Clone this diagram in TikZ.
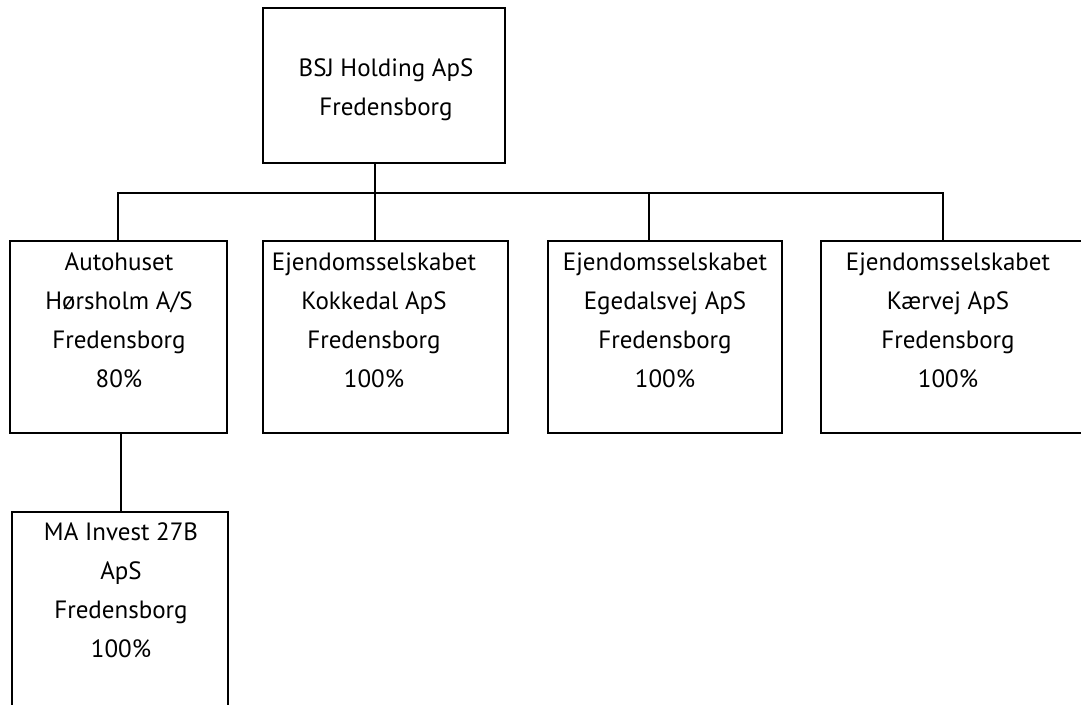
\documentclass[tikz,border=0pt]{standalone}
\usepackage{fontspec}
\setmainfont{PT Sans}
\begin{document}
\begin{tikzpicture}[x=1pt,y=-1pt,
  box/.style={draw, line width=1.5pt, anchor=north west, inner sep=0pt, outer sep=0pt},
  lbl/.style={align=center, inner sep=0pt, font=\fontsize{25}{39}\selectfont},
  conn/.style={line width=1.5pt}]
\clip (0,0) rectangle (1081,704);
\fill[white] (0,0) rectangle (1081,704);
% boxes
\node[box, minimum width=242pt, minimum height=155pt] (top) at (263,8) {};
\node[box, minimum width=217pt, minimum height=192pt] (b1) at (10,241) {};
\node[box, minimum width=245pt, minimum height=192pt] (b2) at (263,241) {};
\node[box, minimum width=234pt, minimum height=192pt] (b3) at (548,241) {};
\node[box, minimum width=300pt, minimum height=192pt] (b4) at (821,241) {};
\node[box, minimum width=216pt, minimum height=260pt] (b5) at (12,512) {};
% junctions
\coordinate (j1) at (118,193);
\coordinate (j2) at (375,193);
\coordinate (j3) at (649,193);
\coordinate (j4) at (943,193);
\coordinate (j5) at (121,470);
% connectors
\draw[conn] (b1.north -| j1) -- (j1) -- (j4) -- (b4.north -| j4);
\draw[conn] (top.south -| j2) -- (b2.north -| j2);
\draw[conn] (j3) -- (b3.north -| j3);
\draw[conn] (b1.south -| j5) -- (b5.north -| j5);
% texts
\node[lbl] (t0) at (386,90) {BSJ Holding ApS\\Fredensborg};
\node[lbl] (t1) at (119,320) {Autohuset\\Hørsholm A/S\\Fredensborg\\80\%};
\node[lbl] (t2) at (374,320) {Ejendomsselskabet\\Kokkedal ApS\\Fredensborg\\100\%};
\node[lbl] (t3) at (665,320) {Ejendomsselskabet\\Egedalsvej ApS\\Fredensborg\\100\%};
\node[lbl] (t4) at (948,320) {Ejendomsselskabet\\Kærvej ApS\\Fredensborg\\100\%};
\node[lbl] (t5) at (121,590) {MA Invest 27B\\ApS\\Fredensborg\\100\%};
\end{tikzpicture}
\end{document}
